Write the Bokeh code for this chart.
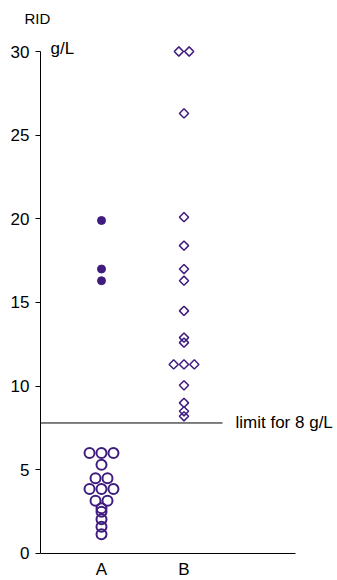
from bokeh.plotting import figure
from bokeh.models import Range1d, FixedTicker, Label
from bokeh.core.properties import value
from bokeh.embed import file_html
from bokeh.resources import INLINE

# ---- data ----
categories = ["A", "B"]
a_filled = [19.9, 17.0, 16.3]
a_open = [6.0, 6.0, 6.0, 5.3, 4.5, 4.5, 3.85, 3.85, 3.85, 3.15, 3.15,
          2.7, 2.5, 2.05, 1.6, 1.15]
b_open = [30.0, 30.0, 26.3, 20.1, 18.4, 17.0, 16.3, 14.5, 12.9, 12.6,
          11.3, 11.3, 11.3, 10.05, 9.0, 8.5, 8.2]
limit_value = 7.8
limit_label = "limit for 8 g/L"
y_ticks = [0, 5, 10, 15, 20, 25, 30]
y_title = "RID"
unit_label = "g/L"

FONT = "Liberation Sans"
PURPLE = "#3f1d7f"


def dodge(values, center, step):
    counts = {}
    for v in values:
        counts[v] = counts.get(v, 0) + 1
    seen = {}
    xs = []
    for v in values:
        n = counts[v]
        i = seen.get(v, 0)
        seen[v] = i + 1
        xs.append(center + (i - (n - 1) / 2) * step)
    return xs


xpos = {c: i + 1 for i, c in enumerate(categories)}
PX_X = 82.5      # px per x unit
PX_Y = 16.733    # px per y unit
W, H = 337, 580
BL, BT = 40, 26
x_start = 1 - 61 / PX_X
x_end = x_start + (W - BL) / PX_X
y_end = 30 + (51 - BT) / PX_Y
y_start = y_end - (H - BT) / PX_Y

p = figure(width=W, height=H, output_backend="svg", toolbar_location=None,
           x_range=Range1d(x_start, x_end), y_range=Range1d(y_start, y_end),
           min_border_left=BL, min_border_right=0, min_border_top=BT,
           min_border_bottom=0, title=y_title)
p.grid.visible = False
p.outline_line_color = None
p.title.align = "left"
p.title.offset = -16
p.title.text_font = FONT
p.title.text_font_size = "15px"
p.title.text_font_style = "normal"
p.title.text_color = "black"
p.title.standoff = 0
p.title.text_line_height = 1.6

# axes
p.xaxis.visible = False
p.yaxis.ticker = FixedTicker(ticks=y_ticks)
p.yaxis.bounds = (0, 30)
p.yaxis.major_tick_out = 5
p.yaxis.major_tick_in = 0
p.yaxis.minor_tick_line_color = None
p.yaxis.major_label_standoff = 6
p.yaxis.axis_line_color = "black"
p.yaxis.axis_line_width = 1
p.yaxis.major_label_text_font = FONT
p.yaxis.major_label_text_font_size = "17px"
p.yaxis.major_label_text_color = "black"

# x axis baseline and category labels
p.segment(x0=[x_start], y0=[0], x1=[x_start + 255 / PX_X], y1=[0],
          line_color="black", line_width=1)
p.text(x=[xpos[c] for c in categories], y=[-16 / PX_Y] * len(categories),
       text=categories, text_font=value(FONT), text_font_size="17px",
       text_align="center", text_baseline="middle", text_color="black")

# limit line
p.segment(x0=[x_start], y0=[limit_value], x1=[x_start + 182 / PX_X],
          y1=[limit_value], line_color="black", line_width=1)

# data
p.scatter(x=dodge(a_open, xpos["A"], 0.145), y=a_open, marker="circle",
          size=10, fill_color=None, line_color=PURPLE, line_width=2)
p.scatter(x=dodge(a_filled, xpos["A"], 0.145), y=a_filled, marker="circle",
          size=8, fill_color=PURPLE, line_color=PURPLE, line_width=1)
p.scatter(x=dodge(b_open, xpos["B"], 0.125), y=b_open, marker="square",
          angle=0.785398, size=6.5, fill_color=None, line_color=PURPLE,
          line_width=1.5)

# labels
p.add_layout(Label(x=x_start + 195 / PX_X, y=limit_value, text=limit_label,
                   text_font=FONT, text_font_size="17px",
                   text_baseline="middle", text_align="left",
                   text_color="black"))
p.add_layout(Label(x=x_start + 10 / PX_X, y=30.15, text=unit_label,
                   text_font=FONT, text_font_size="17px",
                   text_baseline="middle", text_align="left",
                   text_color="black"))

open("out.html", "w").write(file_html(p, INLINE))
